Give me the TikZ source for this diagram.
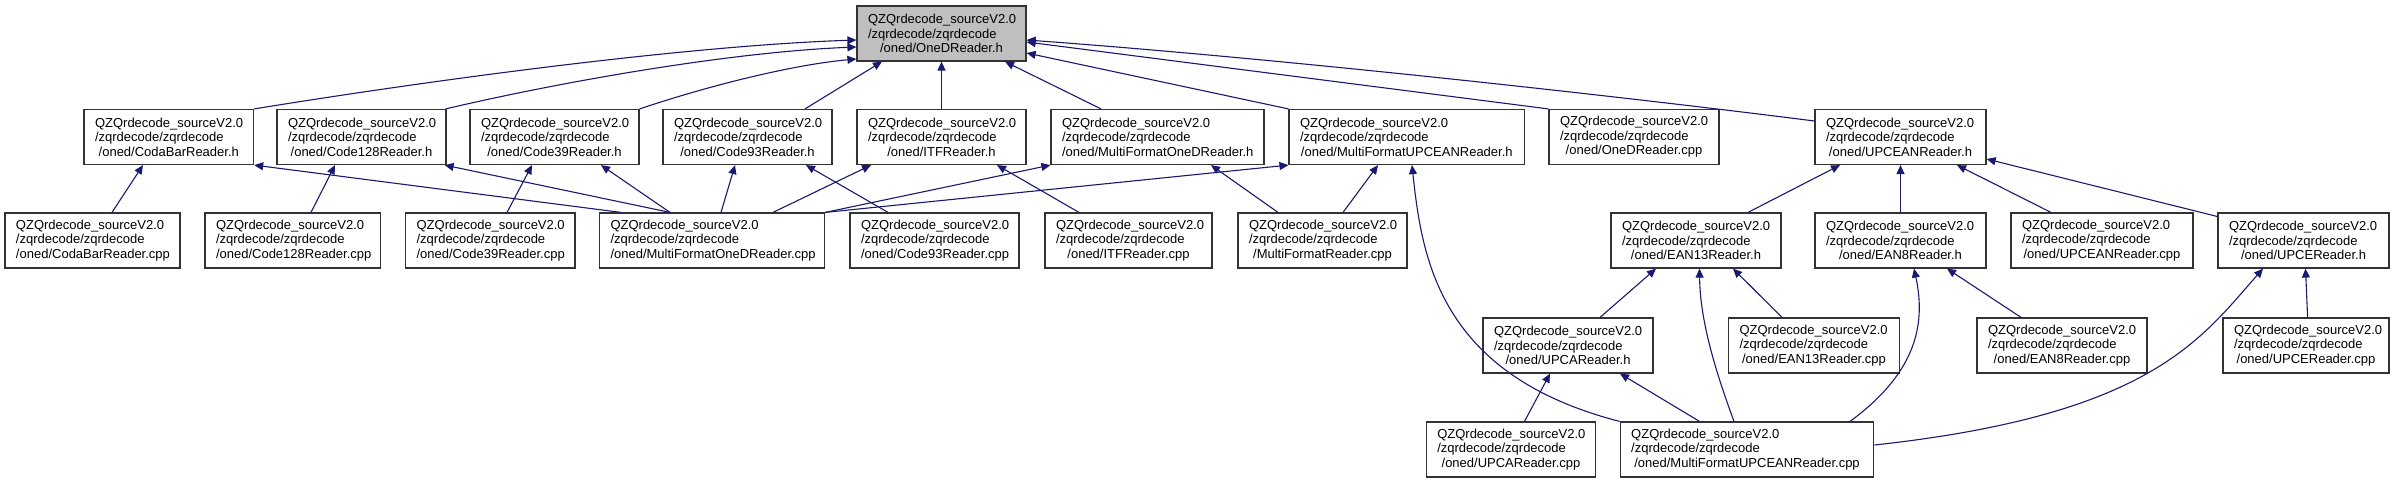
\documentclass[tikz,border=0pt]{standalone}
\usepackage{fontspec}
\setmainfont{Liberation Sans}
\usetikzlibrary{arrows.meta}
\definecolor{edgeblue}{HTML}{191970}
\definecolor{rootgrey}{HTML}{BFBFBF}
\definecolor{boxline}{HTML}{333333}
\newcommand{\dlbl}[2]{\vbox{\hsize=\dimexpr#1pt-22pt\relax\baselineskip=14.5pt\lineskiplimit=-20pt
\hbox to \hsize{QZQrdecode\_sourceV2.0\hfil}%
\hbox to \hsize{/zqrdecode/zqrdecode\hfil}%
\hbox to \hsize{\hfil #2\hfil}}}
\tikzset{
  dbox/.style={draw=boxline, line width=1.2pt, fill=white, inner sep=0pt, minimum height=55pt,
    font=\fontsize{13}{14.5}\selectfont},
  rootbox/.style={dbox, fill=rootgrey},
  dep/.style={draw=edgeblue, line width=1.1pt, -{Triangle[length=9pt,width=8pt]}},
}
\begin{document}
\begin{tikzpicture}[x=1pt,y=-1pt]
\useasboundingbox (0,0) rectangle (2393,483);
% root
\node[rootbox, minimum width=169pt] (onedh) at (941.5,33.5) {\dlbl{169}{/oned/OneDReader.h}};
% row 1
\node[dbox, minimum width=169.6pt] (codabarh) at (168.8,137) {\dlbl{169.6}{/oned/CodaBarReader.h}};
\node[dbox, minimum width=169pt] (code128h) at (361.5,137) {\dlbl{169}{/oned/Code128Reader.h}};
\node[dbox, minimum width=169pt] (code39h) at (554.5,137) {\dlbl{169}{/oned/Code39Reader.h}};
\node[dbox, minimum width=169pt] (code93h) at (747.5,137) {\dlbl{169}{/oned/Code93Reader.h}};
\node[dbox, minimum width=169pt] (itfh) at (941.5,137) {\dlbl{169}{/oned/ITFReader.h}};
\node[dbox, minimum width=213pt] (mfonedh) at (1157.5,137) {\dlbl{213}{/oned/MultiFormatOneDReader.h}};
\node[dbox, minimum width=235.5pt] (mfupceanh) at (1406.8,137) {\dlbl{235.5}{/oned/MultiFormatUPCEANReader.h}};
\node[dbox, minimum width=170pt] (onedcpp) at (1634,137) {\dlbl{170}{/oned/OneDReader.cpp}};
\node[dbox, minimum width=171pt] (upceanh) at (1900.5,137) {\dlbl{171}{/oned/UPCEANReader.h}};
% row 2
\node[dbox, minimum width=175pt] (codabarcpp) at (92.5,240.5) {\dlbl{175}{/oned/CodaBarReader.cpp}};
\node[dbox, minimum width=175.6pt] (code128cpp) at (292.8,240.5) {\dlbl{175.6}{/oned/Code128Reader.cpp}};
\node[dbox, minimum width=169.4pt] (code39cpp) at (490.3,240.5) {\dlbl{169.4}{/oned/Code39Reader.cpp}};
\node[dbox, minimum width=225pt] (mfonedcpp) at (712,240.5) {\dlbl{225}{/oned/MultiFormatOneDReader.cpp}};
\node[dbox, minimum width=169pt] (code93cpp) at (934.5,240.5) {\dlbl{169}{/oned/Code93Reader.cpp}};
\node[dbox, minimum width=167pt] (itfcpp) at (1128.5,240.5) {\dlbl{167}{/oned/ITFReader.cpp}};
\node[dbox, minimum width=169pt] (mfreadercpp) at (1322.5,240.5) {\dlbl{169}{/MultiFormatReader.cpp}};
\node[dbox, minimum width=170pt] (ean13h) at (1696,240.5) {\dlbl{170}{/oned/EAN13Reader.h}};
\node[dbox, minimum width=171pt] (ean8h) at (1900.5,240.5) {\dlbl{171}{/oned/EAN8Reader.h}};
\node[dbox, minimum width=182pt] (upceancpp) at (2102,240.5) {\dlbl{182}{/oned/UPCEANReader.cpp}};
\node[dbox, minimum width=171pt] (upceh) at (2303.5,240.5) {\dlbl{171}{/oned/UPCEReader.h}};
% row 4
\node[dbox, minimum width=170pt] (upcah) at (1568,345.5) {\dlbl{170}{/oned/UPCAReader.h}};
\node[dbox, minimum width=171pt] (ean13cpp) at (1814,345.5) {\dlbl{171}{/oned/EAN13Reader.cpp}};
\node[dbox, minimum width=170pt] (ean8cpp) at (2062,345.5) {\dlbl{170}{/oned/EAN8Reader.cpp}};
\node[dbox, minimum width=166pt] (upcecpp) at (2306,345.5) {\dlbl{166}{/oned/UPCEReader.cpp}};
% row 5
\node[dbox, minimum width=169.5pt] (upcacpp) at (1511,449.5) {\dlbl{169.5}{/oned/UPCAReader.cpp}};
\node[dbox, minimum width=253.6pt] (mfupceancpp) at (1747,449.5) {\dlbl{253.6}{/oned/MultiFormatUPCEANReader.cpp}};
% edges to OneDReader.h
\draw[dep] (codabarh.north east) .. controls (420,82) and (680,46) .. ([yshift=-6.5pt]onedh.west);
\draw[dep] ([xshift=-1pt]code128h.north east) .. controls (560,82) and (730,52) .. ([yshift=-13.5pt]onedh.west);
\draw[dep] (code39h.north east) .. controls (720,82) and (800,64) .. ([yshift=-25.5pt]onedh.west);
\draw[dep] ([xshift=57.5pt]code93h.north) -- ([xshift=-59.5pt]onedh.south);
\draw[dep] (itfh.north) -- (onedh.south);
\draw[dep] ([xshift=-56.5pt]mfonedh.north) -- ([xshift=63.5pt]onedh.south);
\draw[dep] (mfupceanh.north west) -- ([yshift=-19.5pt]onedh.east);
\draw[dep] (onedcpp.north west) -- ([yshift=-8.5pt]onedh.east);
\draw[dep] ([yshift=16pt]upceanh.west) .. controls (1650,100) and (1300,60) .. ([yshift=-6.5pt]onedh.east);
% edges to row-1 headers
\draw[dep] ([xshift=19.5pt]codabarcpp.north) -- ([xshift=-25.8pt]codabarh.south);
\draw[dep] ([xshift=-91pt]mfonedcpp.north) -- (codabarh.south east);
\draw[dep] ([xshift=18.2pt]code128cpp.north) -- ([xshift=-26.5pt]code128h.south);
\draw[dep] ([xshift=-42pt]mfonedcpp.north) -- ([xshift=-2pt]code128h.south east);
\draw[dep] ([xshift=16.7pt]code39cpp.north) -- ([xshift=-22.5pt]code39h.south);
\draw[dep] ([xshift=-42pt]mfonedcpp.north) -- ([xshift=46.5pt]code39h.south);
\draw[dep] ([xshift=-46.5pt]code93cpp.north) -- ([xshift=58.5pt]code93h.south);
\draw[dep] ([xshift=9pt]mfonedcpp.north) -- ([xshift=-12.5pt]code93h.south);
\draw[dep] ([xshift=61pt]mfonedcpp.north) -- ([xshift=-70.5pt]itfh.south);
\draw[dep] ([xshift=-49.5pt]itfcpp.north) -- ([xshift=55.5pt]itfh.south);
\draw[dep] (mfonedcpp.north east) -- (mfonedh.south west);
\draw[dep] ([xshift=-44.5pt]mfreadercpp.north) -- ([xshift=53.5pt]mfonedh.south);
\draw[dep] (mfonedcpp.north east) -- (mfupceanh.south west);
\draw[dep] ([xshift=20.5pt]mfreadercpp.north) -- ([xshift=-28.8pt]mfupceanh.south);
\draw[dep] (mfupceancpp.north west) .. controls (1440,375) and (1422,260) .. ([xshift=5.2pt]mfupceanh.south);
% edges to UPCEANReader.h
\draw[dep] ([xshift=52pt]ean13h.north) -- ([xshift=-60.5pt]upceanh.south);
\draw[dep] (ean8h.north) -- (upceanh.south);
\draw[dep] ([xshift=-51pt]upceancpp.north) -- ([xshift=56.5pt]upceanh.south);
\draw[dep] ([yshift=24pt]upceh.west) -- ([yshift=-22pt]upceanh.east);
% lower right
\draw[dep] ([xshift=32pt]upcah.north) -- ([xshift=-40pt]ean13h.south);
\draw[dep] ([xshift=-32pt]ean13cpp.north) -- ([xshift=37pt]ean13h.south);
\draw[dep] ([xshift=-13pt]mfupceancpp.north) .. controls (1715,370) and (1700,320) .. ([xshift=3.5pt]ean13h.south);
\draw[dep] ([xshift=-41pt]ean8cpp.north) -- ([xshift=46.5pt]ean8h.south);
\draw[dep] ([xshift=103pt]mfupceancpp.north) .. controls (1920,370) and (1925,320) .. ([xshift=13.5pt]ean8h.south);
\draw[dep] ([xshift=1.6pt]upcecpp.north) -- ([xshift=2pt]upceh.south);
\draw[dep] ([yshift=4.5pt]mfupceancpp.east) .. controls (2150,415) and (2200,340) .. ([xshift=-40.5pt]upceh.south);
\draw[dep] ([xshift=13.5pt]upcacpp.north) -- ([xshift=-18pt]upcah.south);
\draw[dep] ([xshift=-47.5pt]mfupceancpp.north) -- ([xshift=52pt]upcah.south);
\end{tikzpicture}
\end{document}
